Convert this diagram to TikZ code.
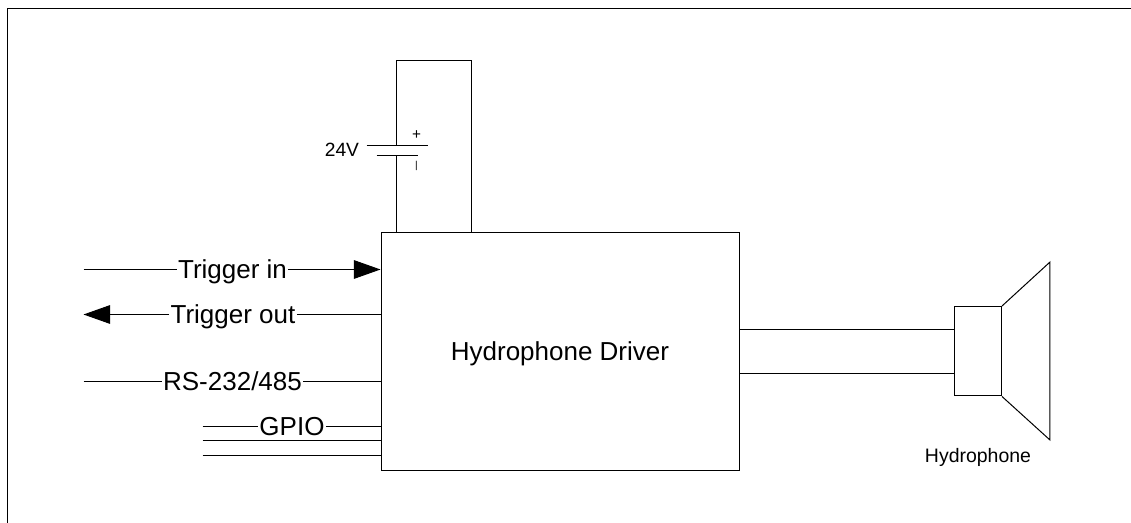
\documentclass[tikz,border=0pt]{standalone}
\usepackage{fontspec}
\setmainfont{Liberation Sans}
\usetikzlibrary{positioning,calc,arrows.meta}

\begin{document}
\begin{tikzpicture}[x=0.75pt, y=-0.75pt, line width=0.75pt, shift={(0.5,0.5)},
  box/.style={draw, inner sep=0pt, align=center},
  sig/.style={inner xsep=0.8pt, inner ysep=0pt, text height=15pt, text depth=2.2pt, font=\fontsize{19.5}{20}\selectfont},
  tip/.style={-{Triangle[length=20pt, width=14pt]}}]
\useasboundingbox (-0.5,-0.5) rectangle (1130.5,522.5);
\coordinate (frameA) at (7,523);
\coordinate (frameB) at (1131,8);
\draw (frameA) |- (frameB);
\node[box, sig, draw, minimum width=268.5pt, minimum height=178.5pt] (driver) at (559.5,351) {Hydrophone Driver};
\node[sig] (tin) at (232,269) {Trigger in};
\node[sig] (tout) at (232.5,314) {Trigger out};
\node[sig] (rs) at (232,381) {RS-232/485};
\node[sig] (gpio) at (291.5,426) {GPIO};
\coordinate (tinS) at (83,269);
\coordinate (toutS) at (83,314);
\coordinate (rsS) at (83,381);
\coordinate (gpioS) at (202,426);
\coordinate (gpioB) at (202,440.5);
\coordinate (gpioC) at (202,455);
\draw (tinS) -- (tin);
\draw[tip] (tin) -- (tin -| driver.west);
\draw[tip] (tout) -- (toutS);
\draw (tout) -- (tout -| driver.west);
\draw (rsS) -- (rs);
\draw (rs) -- (rs -| driver.west);
\draw (gpioS) -- (gpio);
\draw (gpio) -- (gpio -| driver.west);
\draw (gpioB) -- (gpioB -| driver.west);
\draw (gpioC) -- (gpioC -| driver.west);
\coordinate (supL) at (396,60);
\coordinate (supR) at (470.5,60);
\coordinate (batP) at (396,145);
\coordinate (batM) at (396,155);
\draw (batP) -- (supL) -- (supR) -- (supR |- driver.north);
\draw (batM) -- (batM |- driver.north);
\draw ($(batP)+(-30,0)$) -- ($(batP)+(31,0)$);
\draw ($(batM)+(-20,0)$) -- ($(batM)+(21,0)$);
\node[font=\fontsize{14.4}{18}\selectfont, left=27.75pt of batP, inner sep=0pt, yshift=-3.4pt] (volt) {24V};
\node[font=\fontsize{11.5}{14}\selectfont, inner sep=0pt] (plus) at (416,135) {+};
\node[font=\fontsize{7.5}{9}\selectfont, inner sep=0pt] (minus) at (416,165) {|};
\node[box, minimum width=35.6pt, minimum height=67.1pt] (coil) at (977.25,350.75) {};
\draw (coil.north east) -- ++(48,-44) coordinate (coneA) -- ++(0,178) coordinate (coneB) -- (coil.south east);
\coordinate (outA) at (739,329);
\coordinate (outB) at (739,373);
\draw (outA) -- (outA -| coil.west);
\draw (outB) -- (outB -| coil.west);
\node[font=\fontsize{14.6}{16}\selectfont, inner sep=0pt] (hydro) at (977.5,457) {Hydrophone};
\end{tikzpicture}
\end{document}
